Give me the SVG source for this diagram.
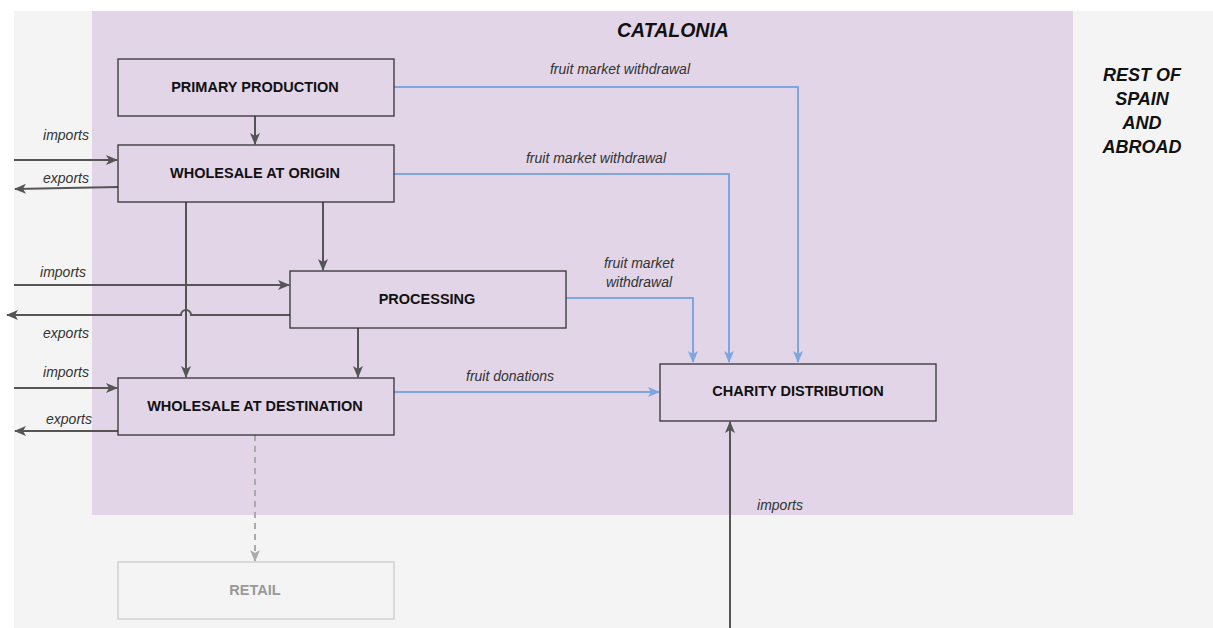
<svg xmlns="http://www.w3.org/2000/svg" width="1213" height="628" viewBox="0 0 1213 628">
<style>
.node{fill:#e1d5e7;stroke:#333;stroke-width:1.3}
.ntext{font-family:"Liberation Sans",Arial,sans-serif;font-size:14.5px;font-weight:bold;fill:#111;text-anchor:middle}
.lbl{font-family:"Liberation Sans",Arial,sans-serif;font-size:14px;font-style:italic;fill:#333;text-anchor:middle}
.title{font-family:"Liberation Sans",Arial,sans-serif;font-size:18px;font-style:italic;font-weight:bold;fill:#111;text-anchor:middle}
.g{fill:none;stroke:#555;stroke-width:2}
.b{fill:none;stroke:#7ea6e0;stroke-width:2}
</style>
<defs>
<marker id="ag" markerWidth="12" markerHeight="12" refX="11" refY="6" orient="auto" markerUnits="userSpaceOnUse"><path d="M0,1 L12,6 L0,11 L3,6 Z" fill="#555"/></marker>
<marker id="ab" markerWidth="12" markerHeight="12" refX="11" refY="6" orient="auto" markerUnits="userSpaceOnUse"><path d="M0,1 L12,6 L0,11 L3,6 Z" fill="#7ea6e0"/></marker>
<marker id="al" markerWidth="12" markerHeight="12" refX="11" refY="6" orient="auto" markerUnits="userSpaceOnUse"><path d="M0,1 L12,6 L0,11 L3,6 Z" fill="#aaa"/></marker>
</defs>
<rect width="1213" height="628" fill="#fff"/>
<rect x="14" y="11" width="1199" height="617" fill="#f4f4f4"/>
<rect x="92" y="11" width="981" height="504" fill="#e1d5e7"/>
<text class="title" x="673" y="37" style="font-size:19.5px">CATALONIA</text>
<text class="title" x="1142" y="81">REST OF</text>
<text class="title" x="1142" y="105">SPAIN</text>
<text class="title" x="1142" y="129">AND</text>
<text class="title" x="1142" y="153">ABROAD</text>
<g id="connectors">
<path class="g" d="M255,116 V144" marker-end="url(#ag)"/>
<path class="g" d="M186,202 V377" marker-end="url(#ag)"/>
<path class="g" d="M323,202 V270" marker-end="url(#ag)"/>
<path class="g" d="M358,328 V377" marker-end="url(#ag)"/>
<path class="g" d="M14,160 H117" marker-end="url(#ag)"/>
<path class="g" d="M118,187 L15,189" marker-end="url(#ag)"/>
<path class="g" d="M14,285 H289" marker-end="url(#ag)"/>
<path class="g" d="M290,315 H191 A5,5 0 0 0 181,315 H7" marker-end="url(#ag)"/>
<path class="g" d="M14,388 H117" marker-end="url(#ag)"/>
<path class="g" d="M118,431 H15" marker-end="url(#ag)"/>
<path class="g" d="M730,628 V422" marker-end="url(#ag)"/>
<path class="b" d="M394,87 H798 V362" marker-end="url(#ab)"/>
<path class="b" d="M394,174 H729 V362" marker-end="url(#ab)"/>
<path class="b" d="M566,298 H693 V362" marker-end="url(#ab)"/>
<path class="b" d="M394,392 H659" marker-end="url(#ab)"/>
<path d="M255,435 V561" fill="none" stroke="#aaa" stroke-width="2" stroke-dasharray="6,5" marker-end="url(#al)"/>
<text class="lbl" x="66" y="140">imports</text>
<text class="lbl" x="66" y="183">exports</text>
<text class="lbl" x="63" y="277">imports</text>
<text class="lbl" x="66" y="338">exports</text>
<text class="lbl" x="66" y="377">imports</text>
<text class="lbl" x="69" y="424">exports</text>
<text class="lbl" x="780" y="510">imports</text>
<text class="lbl" x="620" y="74">fruit market withdrawal</text>
<text class="lbl" x="596" y="163">fruit market withdrawal</text>
<text class="lbl" x="639" y="268">fruit market</text>
<text class="lbl" x="639" y="287">withdrawal</text>
<text class="lbl" x="510" y="381">fruit donations</text>
</g>
<g id="primary-production"><rect class="node" x="118" y="59" width="276" height="57"/><text class="ntext" x="255" y="92">PRIMARY PRODUCTION</text></g>
<g id="wholesale-origin"><rect class="node" x="118" y="145" width="276" height="57"/><text class="ntext" x="255" y="178">WHOLESALE AT ORIGIN</text></g>
<g id="processing"><rect class="node" x="290" y="271" width="276" height="57"/><text class="ntext" x="427" y="304">PROCESSING</text></g>
<g id="wholesale-destination"><rect class="node" x="118" y="378" width="276" height="57"/><text class="ntext" x="255" y="411">WHOLESALE AT DESTINATION</text></g>
<g id="charity-distribution"><rect class="node" x="660" y="364" width="276" height="57"/><text class="ntext" x="798" y="396">CHARITY DISTRIBUTION</text></g>
<g id="retail"><rect x="118" y="562" width="276" height="57" fill="#f4f4f4" stroke="#ccc" stroke-width="1.3"/><text class="ntext" x="255" y="595" style="fill:#999">RETAIL</text></g>
</svg>
